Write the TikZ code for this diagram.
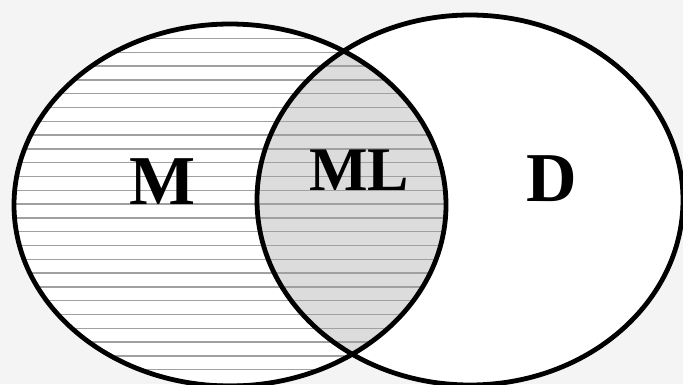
\documentclass[tikz,border=0pt]{standalone}
\usepackage{fontspec}
\setmainfont{Liberation Serif}
\usetikzlibrary{positioning}
\definecolor{pagegray}{HTML}{F4F4F4}
\definecolor{hatchgray}{HTML}{A0A0A0}
\definecolor{overlapgray}{HTML}{DCDCDC}
\tikzset{
  setline/.style={draw=black, line width=4.8pt},
  setlabel/.style={font=\bfseries\fontsize{70}{70}\selectfont, inner sep=0pt},
}
\begin{document}
\begin{tikzpicture}[x=1pt, y=-1pt]
  \fill[pagegray] (0,0) rectangle (683,384);
  \useasboundingbox (0,0) rectangle (683,384);
  \fill[white] (470,200) ellipse [x radius=213, y radius=185];
  \begin{scope}
    \clip (230,205) ellipse [x radius=216, y radius=181];
    \fill[white] (0,0) rectangle (683,384);
    \begin{scope}
      \clip (470,200) ellipse [x radius=213, y radius=185];
      \fill[overlapgray] (0,0) rectangle (683,384);
    \end{scope}
    \foreach \k in {0,...,25}
      \draw[hatchgray, line width=1.3pt] (0,38.5+13.8*\k) -- (683,38.5+13.8*\k);
  \end{scope}
  \draw[setline] (230,205) ellipse [x radius=216, y radius=181];
  \draw[setline] (470,200) ellipse [x radius=213, y radius=185];
  \node[setlabel] (m) at (163,182) {M};
  \node[setlabel, font=\bfseries\fontsize{62}{62}\selectfont] (ml) at (359,170) {ML};
  \node[setlabel] (d) at (552,179) {D};
\end{tikzpicture}
\end{document}
